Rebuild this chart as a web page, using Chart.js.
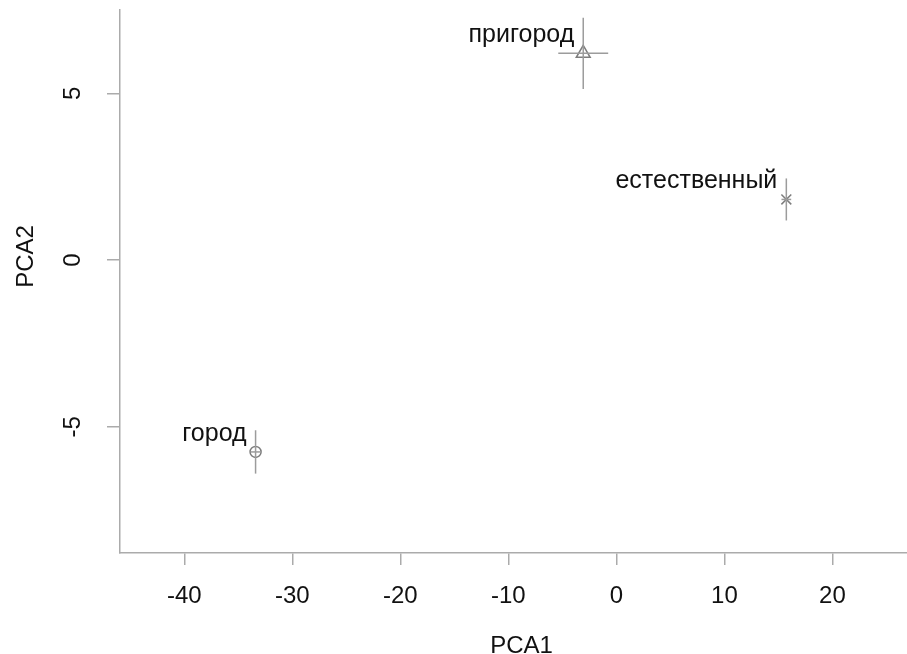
<!DOCTYPE html>
<html>
<head>
<meta charset="utf-8">
<script src="https://cdn.jsdelivr.net/npm/chart.js@4.4.1/dist/chart.umd.min.js"></script>
<style>
  html, body { margin: 0; padding: 0; background: #ffffff; }
  canvas { display: block; }
</style>
</head>
<body>
<canvas id="pca" width="907" height="654"></canvas>
<script>
// Group means on the first two principal components, with spread
const groups  = ['город', 'пригород', 'естественный'];
const pca1    = [-33.4, -3.07, 15.73];
const pca2    = [-5.75, 6.2, 1.82];
const pca1Err = [0.45, 2.31, 0.45];
const pca2Err = [0.65, 1.07, 0.63];

// Axis ticks and visible ranges
const xTicks = [-40, -30, -20, -10, 0, 10, 20];
const yTicks = [-5, 0, 5];
const xRange = [-45.95, 26.9];
const yRange = [-8.78, 7.5];

const FONT = '"Liberation Sans", Arial, sans-serif';
const TEXT = '#111111';
const AXIS = '#ababab';
const BAR = '#9c9c9c';
const MARK = '#7d7d7d';
const markerStyle = ['circle', 'triangle', 'crossRot'];
const markerSize = [5.5, 8, 7];

const datasets = [];
groups.forEach((g, i) => {
  // vertical spread
  datasets.push({
    data: [{ x: pca1[i], y: pca2[i] - pca2Err[i] }, { x: pca1[i], y: pca2[i] + pca2Err[i] }],
    showLine: true, borderColor: BAR, borderWidth: 1.5, pointRadius: 0
  });
  // horizontal spread
  datasets.push({
    data: [{ x: pca1[i] - pca1Err[i], y: pca2[i] }, { x: pca1[i] + pca1Err[i], y: pca2[i] }],
    showLine: true, borderColor: BAR, borderWidth: 1.5, pointRadius: 0
  });
});
groups.forEach((g, i) => {
  datasets.push({
    label: g,
    data: [{ x: pca1[i], y: pca2[i] }],
    pointStyle: markerStyle[i],
    pointRadius: markerSize[i],
    pointBorderColor: MARK,
    pointBackgroundColor: 'rgba(0,0,0,0)',
    pointBorderWidth: 1.5
  });
});

// Group names written up and to the left of each mean
const groupLabels = {
  id: 'groupLabels',
  afterDatasetsDraw(chart) {
    const ctx = chart.ctx;
    const xs = chart.scales.x, ys = chart.scales.y;
    ctx.save();
    ctx.font = '25px ' + FONT;
    ctx.fillStyle = TEXT;
    ctx.textAlign = 'right';
    ctx.textBaseline = 'alphabetic';
    groups.forEach((g, i) => {
      const px = xs.getPixelForValue(pca1[i]);
      const py = ys.getPixelForValue(pca2[i]);
      ctx.fillText(g, px - 9, py - 11);
    });
    ctx.restore();
  }
};

// Axis titles
const axisTitles = {
  id: 'axisTitles',
  afterDraw(chart) {
    const ctx = chart.ctx;
    const a = chart.chartArea;
    ctx.save();
    ctx.font = '24px ' + FONT;
    ctx.fillStyle = TEXT;
    ctx.textAlign = 'center';
    ctx.textBaseline = 'alphabetic';
    ctx.fillText('PCA1', (a.left + a.right) / 2 + 8, chart.height - 1);
    ctx.translate(33, (a.top + a.bottom) / 2 - 25);
    ctx.rotate(-Math.PI / 2);
    ctx.fillText('PCA2', 0, 0);
    ctx.restore();
  }
};

new Chart(document.getElementById('pca'), {
  type: 'scatter',
  data: { datasets },
  plugins: [groupLabels, axisTitles],
  options: {
    responsive: false,
    devicePixelRatio: 1,
    animation: false,
    layout: { autoPadding: false, padding: { top: 10, left: 0, right: 0, bottom: 0 } },
    plugins: { legend: { display: false }, tooltip: { enabled: false } },
    scales: {
      x: {
        type: 'linear',
        min: xRange[0], max: xRange[1],
        afterBuildTicks: s => { s.ticks = xTicks.map(v => ({ value: v })); },
        afterFit: s => { s.height = 101; s.paddingLeft = 0; s.paddingRight = 0; },
        grid: { drawOnChartArea: false, drawTicks: true, tickLength: 12, color: AXIS, lineWidth: 1.5 },
        border: { display: true, color: AXIS, width: 1.5 },
        ticks: {
          font: { family: FONT, size: 24 }, color: TEXT, padding: 17,
          autoSkip: false, minRotation: 0, maxRotation: 0
        }
      },
      y: {
        type: 'linear',
        min: yRange[0], max: yRange[1],
        afterBuildTicks: s => { s.ticks = yTicks.map(v => ({ value: v })); },
        afterFit: s => { s.width = 120; s.paddingTop = 0; s.paddingBottom = 0; },
        grid: { drawOnChartArea: false, drawTicks: true, tickLength: 13, color: AXIS, lineWidth: 1.5 },
        border: { display: true, color: AXIS, width: 1.5 },
        ticks: {
          font: { family: FONT, size: 24 }, color: TEXT, padding: 23,
          crossAlign: 'center', autoSkip: false, minRotation: 90, maxRotation: 90
        }
      }
    }
  }
});
</script>
</body>
</html>
